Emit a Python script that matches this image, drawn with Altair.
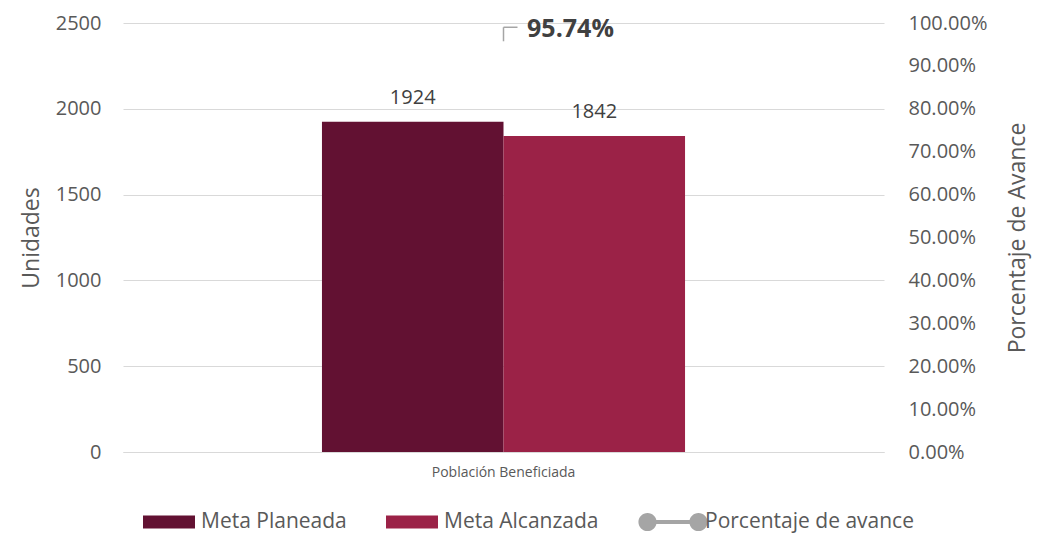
import altair as alt
import pandas as pd

categories = ["Población Beneficiada"]
series = ["Meta Planeada", "Meta Alcanzada"]
values = [1924, 1842]
pct_values = [0.9574]
pct_labels = ["95.74%"]
legend_names = ["Meta Planeada", "Meta Alcanzada", "Porcentaje de avance"]
colors = ["#621132", "#9B2247", "#A5A5A5"]

bars_df = pd.DataFrame({"cat": categories * len(series), "serie": series, "valor": values})
pct_df = pd.DataFrame({"cat": categories, "pct": pct_values, "label": pct_labels})
leg_df = pd.DataFrame({"serie": legend_names})

FONT = "Open Sans"
TXT = "#595959"

rect_path = "M-1,-0.25H1V0.25H-1Z"
line_path = ("M-0.98,-0.077H0.98V0.077H-0.98Z "
             "M-1.33,0 A0.35,0.35 0 1,1 -0.63,0 A0.35,0.35 0 1,1 -1.33,0 Z "
             "M0.63,0 A0.35,0.35 0 1,1 1.33,0 A0.35,0.35 0 1,1 0.63,0 Z")

y_dom = alt.Scale(domain=[0, 2500], nice=False, zero=True)
x_enc = alt.X("cat:N", title=None,
              scale=alt.Scale(paddingOuter=0.548, paddingInner=0),
              axis=alt.Axis(labelAngle=0, labelFontSize=14, labelColor=TXT, labelFont=FONT,
                            ticks=False, domainColor="#D9D9D9", labelPadding=13))
y_left = alt.Y("valor:Q", title="Unidades", stack=None, scale=y_dom,
               axis=alt.Axis(values=[0, 500, 1000, 1500, 2000, 2500], format="d", grid=True,
                             gridColor="#D9D9D9", domain=False, ticks=False, labelFontSize=20,
                             labelColor=TXT, labelFont=FONT, labelPadding=22, titleFontSize=23,
                             titleColor=TXT, titleFont=FONT, titleFontWeight="normal", titlePadding=12))

bars = alt.Chart(bars_df).mark_bar().encode(
    x=x_enc,
    xOffset=alt.XOffset("serie:N", sort=series, scale=alt.Scale(paddingInner=0, paddingOuter=0)),
    y=y_left,
    fill=alt.Fill("serie:N", scale=alt.Scale(domain=series, range=colors[:2]), legend=None),
)

bar_text = alt.Chart(bars_df).mark_text(fontSize=20, font=FONT, color="#404040", dy=-24,
                                        baseline="middle").encode(
    x=alt.X("cat:N"),
    xOffset=alt.XOffset("serie:N", sort=series),
    y=alt.Y("valor:Q", stack=None, scale=y_dom),
    text=alt.Text("valor:Q"),
)

y_right = alt.Y("pct:Q", title="Porcentaje de Avance",
                scale=alt.Scale(domain=[0, 1], nice=False),
                axis=alt.Axis(orient="right", format=".2%", values=[i / 10 for i in range(11)], grid=False,
                              domain=False, ticks=False, labelFontSize=20, labelColor=TXT, labelFont=FONT,
                              labelPadding=24, titleFontSize=23, titleColor=TXT, titleFont=FONT,
                              titleFontWeight="normal", titleAngle=270, titleBaseline="top",
                              titlePadding=20))

pct_text = alt.Chart(pct_df).mark_text(fontSize=25, font=FONT, fontWeight="bold", color="#404040",
                                       dx=67, dy=-12, baseline="middle").encode(
    x=alt.X("cat:N"),
    y=y_right,
    text="label:N",
)
lead_v = alt.Chart(pct_df).mark_rule(color="#A5A5A5", strokeWidth=1.5, y2Offset=-14).encode(
    x=alt.X("cat:N"), y=alt.Y("pct:Q"), y2="pct:Q")
lead_h = alt.Chart(pct_df).mark_rule(color="#A5A5A5", strokeWidth=1.5, yOffset=-14, x2Offset=14).encode(
    x=alt.X("cat:N"), x2="cat:N", y=alt.Y("pct:Q"))

legend_layer = alt.Chart(leg_df).mark_point(filled=True, size=0, opacity=1).encode(
    x=alt.value(0), y=alt.value(0),
    color=alt.Color("serie:N", scale=alt.Scale(domain=legend_names, range=colors), title=None,
                    legend=alt.Legend(orient="none", legendX=20, legendY=473, direction="horizontal",
                                      symbolSize=2704, symbolOpacity=1, labelFontSize=21, labelColor=TXT,
                                      labelFont=FONT, columnPadding=39, labelOffset=6, padding=0,
                                      labelLimit=400, symbolStrokeWidth=0)),
    shape=alt.Shape("serie:N", scale=alt.Scale(domain=legend_names, range=[rect_path, rect_path, line_path]),
                    title=None),
)

left = alt.layer(bars, bar_text, legend_layer)
right = alt.layer(lead_v, lead_h, pct_text)

chart = alt.layer(left, right).resolve_scale(y="independent").properties(
    width=761, height=429,
    padding={"left": 115, "top": 15, "right": 149, "bottom": 82},
    autosize=alt.AutoSizeParams(type="none"),
).configure(background="white", view=alt.ViewConfig(stroke="transparent", strokeWidth=0))

chart.save("out.html", embed_options={"renderer": "svg", "actions": False})
